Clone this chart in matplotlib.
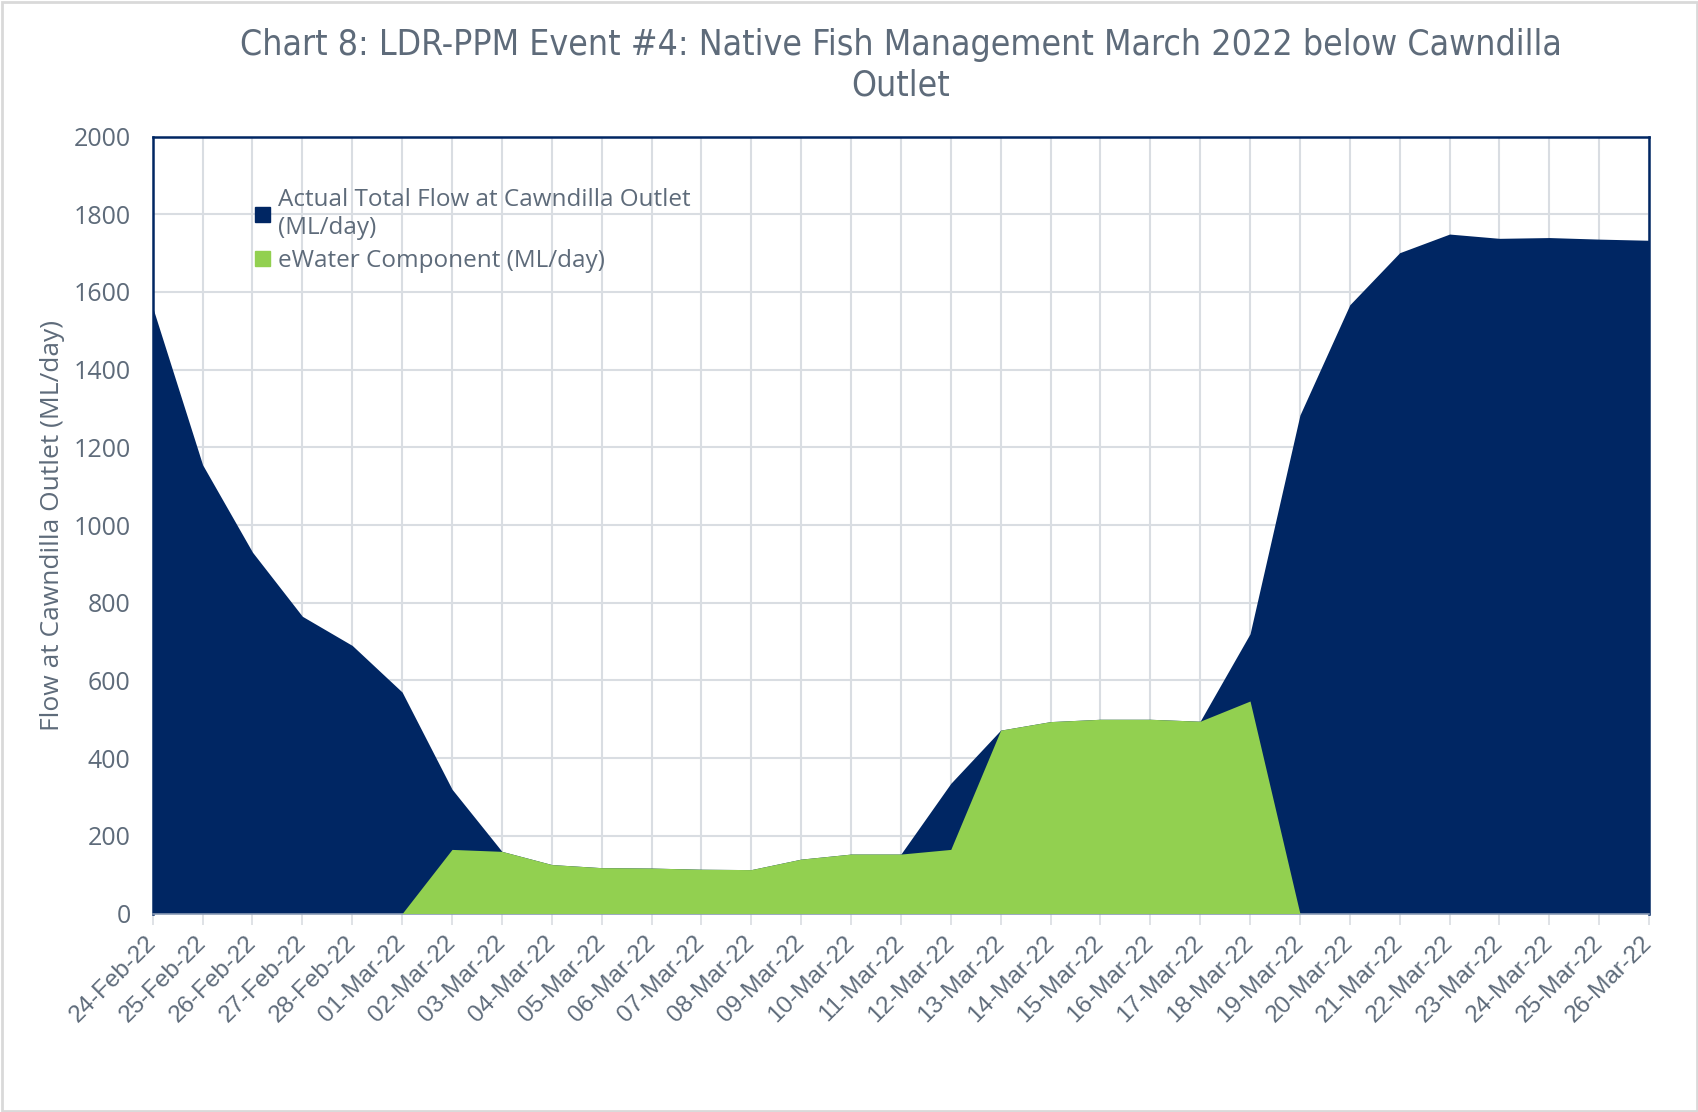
import matplotlib
matplotlib.use("Agg")
import matplotlib.pyplot as plt
from matplotlib.patches import Patch, Rectangle
import numpy as np

dates = [
    "24-Feb-22", "25-Feb-22", "26-Feb-22", "27-Feb-22", "28-Feb-22",
    "01-Mar-22", "02-Mar-22", "03-Mar-22", "04-Mar-22", "05-Mar-22",
    "06-Mar-22", "07-Mar-22", "08-Mar-22", "09-Mar-22", "10-Mar-22",
    "11-Mar-22", "12-Mar-22", "13-Mar-22", "14-Mar-22", "15-Mar-22",
    "16-Mar-22", "17-Mar-22", "18-Mar-22", "19-Mar-22", "20-Mar-22",
    "21-Mar-22", "22-Mar-22", "23-Mar-22", "24-Mar-22", "25-Mar-22",
    "26-Mar-22",
]
total_flow = [
    1560, 1155, 930, 765, 690, 570, 320, 160, 126, 118,
    117, 114, 113, 140, 153, 153, 335, 472, 494, 500,
    500, 495, 720, 1283, 1567, 1701, 1749, 1738, 1740, 1736,
    1733,
]
ewater = [
    0, 0, 0, 0, 0, 0, 165, 160, 126, 118,
    117, 114, 113, 140, 153, 153, 165, 472, 494, 500,
    500, 495, 547, 0, 0, 0, 0, 0, 0, 0,
    0,
]

navy = "#002663"
green = "#92D050"
text_col = "#5e6b7a"
grid_col = "#d9dde2"
sans = ["Open Sans", "DejaVu Sans"]

fig = plt.figure(figsize=(16.99, 11.12), dpi=100)
ax = fig.add_axes([0.0899, 0.1785, 0.8807, 0.6987])

x = np.arange(len(dates))
ax.fill_between(x, total_flow, 0, color=navy, lw=0, zorder=2)
ax.fill_between(x, ewater, 0, color=green, lw=0, zorder=3)

ax.set_xlim(0, len(dates) - 1)
ax.set_ylim(0, 2000)
ax.set_yticks(range(0, 2001, 200))
ax.set_xticks(x)
ax.set_xticklabels(dates, rotation=45, ha="right", va="center",
                   rotation_mode="anchor", fontsize=17.5, color=text_col,
                   family=["Liberation Sans", "DejaVu Sans"])
ax.tick_params(axis="x", length=8, width=1.2, color=grid_col, pad=11)
ax.tick_params(axis="y", length=0, pad=16, labelsize=18, labelcolor=text_col)
for lab in ax.get_yticklabels():
    lab.set_family(sans)

ax.grid(True, color=grid_col, lw=1.5, zorder=1)
ax.set_axisbelow(True)

for side in ["top", "left", "right"]:
    ax.spines[side].set_color(navy)
    ax.spines[side].set_linewidth(1.8)
ax.spines["bottom"].set_color("#8a9bb5")
ax.spines["bottom"].set_linewidth(1.2)

ax.set_ylabel("Flow at Cawndilla Outlet (ML/day)", fontsize=19,
              color=text_col, labelpad=6, family=sans)

fig.text(0.5303, 0.9415,
         "Chart 8: LDR-PPM Event #4: Native Fish Management March 2022 below Cawndilla\nOutlet",
         ha="center", va="center", fontsize=25.6, color=text_col,
         linespacing=1.22, family=["DejaVu Sans"], fontstretch="condensed")

handles = [Patch(color=navy), Patch(color=green)]
labels = ["Actual Total Flow at Cawndilla Outlet\n(ML/day)", "eWater Component (ML/day)"]
leg = ax.legend(handles, labels, loc="upper left", bbox_to_anchor=(0.062, 0.946),
                frameon=False, handlelength=0.6, handleheight=0.6,
                handletextpad=0.35, labelspacing=0.38, borderaxespad=0,
                prop={"family": sans, "size": 17.5})
for t in leg.get_texts():
    t.set_color(text_col)

fig.patches.append(Rectangle((0.001, 0.001), 0.998, 0.997, transform=fig.transFigure,
                             fill=False, edgecolor="#d9d9d9", lw=2))

fig.savefig("out.png", dpi=100)
